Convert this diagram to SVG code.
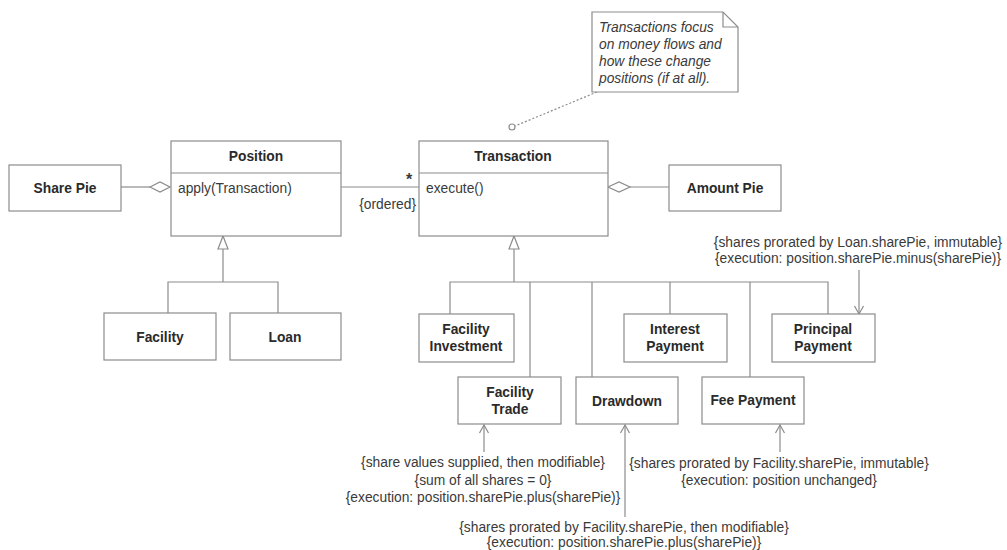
<svg xmlns="http://www.w3.org/2000/svg" width="1007" height="550" viewBox="0 0 1007 550">
<defs>
<style>
.box{fill:#fff;stroke:#8c8c8c;stroke-width:1.2}
.ln{fill:none;stroke:#8c8c8c;stroke-width:1.2}
.b{font-family:"Liberation Sans",Arial,sans-serif;font-size:13.8px;font-weight:bold;fill:#2a2a2a;text-anchor:middle}
.t{font-family:"Liberation Sans",Arial,sans-serif;font-size:13.8px;fill:#3a3a3a}
.c{text-anchor:middle}
.i{font-style:italic}
</style>
<marker id="open" markerWidth="12" markerHeight="12" refX="11" refY="6" orient="auto" markerUnits="userSpaceOnUse" viewBox="0 0 12 12">
<path d="M3,1.5 L11,6 L3,10.5" fill="none" stroke="#8c8c8c" stroke-width="1.2"/>
</marker>
</defs>
<rect width="1007" height="550" fill="#fff"/>

<g id="connectors">
<line class="ln" x1="121" y1="187" x2="150" y2="187"/>
<polygon class="ln" points="150,187 160,182 170,187 160,192" style="fill:#fff"/>
<line class="ln" x1="341" y1="187" x2="419" y2="187"/>
<polygon class="ln" points="608,187 619,182 630,187 619,192" style="fill:#fff"/>
<line class="ln" x1="630" y1="187" x2="669" y2="187"/>
<polygon class="ln" points="223,236 218,249 228,249" style="fill:#fff"/>
<polyline class="ln" points="223,249 223,282"/>
<polyline class="ln" points="168,313 168,282 278,282 278,313"/>
<polygon class="ln" points="514,236 509,249 519,249" style="fill:#fff"/>
<polyline class="ln" points="514,249 514,282"/>
<polyline class="ln" points="450,314 450,282 828,282 828,314"/>
<line class="ln" x1="530" y1="282" x2="530" y2="377"/>
<line class="ln" x1="592" y1="282" x2="592" y2="377"/>
<line class="ln" x1="670" y1="282" x2="670" y2="314"/>
<line class="ln" x1="750" y1="282" x2="750" y2="377"/>
<line class="ln" x1="597" y1="92" x2="515" y2="126" stroke-dasharray="2,2"/>
<circle class="ln" cx="512" cy="127" r="3" style="fill:#fff"/>
<line class="ln" x1="859" y1="270" x2="859" y2="314" marker-end="url(#open)"/>
<line class="ln" x1="484" y1="452" x2="484" y2="425" marker-end="url(#open)"/>
<line class="ln" x1="625" y1="517" x2="625" y2="425" marker-end="url(#open)"/>
<line class="ln" x1="780" y1="452" x2="780" y2="425" marker-end="url(#open)"/>
</g>

<g id="note">
<polygon class="box" points="592,12 723,12 738,27 738,92 592,92"/>
<polyline class="ln" points="723,12 723,27 738,27"/>
<text class="t i" x="599" y="32">Transactions focus</text>
<text class="t i" x="599" y="49">on money flows and</text>
<text class="t i" x="599" y="66">how these change</text>
<text class="t i" x="599" y="83">positions (if at all).</text>
</g>

<g id="share-pie">
<rect class="box" x="9" y="165" width="112" height="46"/>
<text class="b" x="65" y="193">Share Pie</text>
</g>

<g id="position">
<rect class="box" x="171" y="141" width="170" height="95"/>
<line class="ln" x1="171" y1="173" x2="341" y2="173"/>
<text class="b" x="256" y="161">Position</text>
<text class="t" x="178" y="193">apply(Transaction)</text>
</g>

<g id="association-labels">
<text class="t" x="409" y="185" style="font-weight:bold;font-size:16px" text-anchor="middle">*</text>
<text class="t" x="416" y="209" text-anchor="end">{ordered}</text>
</g>

<g id="transaction">
<rect class="box" x="419" y="141" width="189" height="95"/>
<line class="ln" x1="419" y1="173" x2="608" y2="173"/>
<text class="b" x="513" y="161">Transaction</text>
<text class="t" x="426" y="193">execute()</text>
</g>

<g id="amount-pie">
<rect class="box" x="669" y="165" width="112" height="46"/>
<text class="b" x="725" y="193">Amount Pie</text>
</g>

<g id="facility">
<rect class="box" x="104" y="313" width="112" height="47"/>
<text class="b" x="160" y="342">Facility</text>
</g>

<g id="loan">
<rect class="box" x="230" y="313" width="111" height="47"/>
<text class="b" x="285" y="342">Loan</text>
</g>

<g id="facility-investment">
<rect class="box" x="419" y="314" width="95" height="48"/>
<text class="b" x="466" y="334">Facility</text>
<text class="b" x="466" y="351">Investment</text>
</g>

<g id="interest-payment">
<rect class="box" x="624" y="314" width="103" height="48"/>
<text class="b" x="675" y="334">Interest</text>
<text class="b" x="675" y="351">Payment</text>
</g>

<g id="principal-payment">
<rect class="box" x="772" y="314" width="103" height="48"/>
<text class="b" x="823" y="334">Principal</text>
<text class="b" x="823" y="351">Payment</text>
</g>

<g id="facility-trade">
<rect class="box" x="458" y="377" width="103" height="47"/>
<text class="b" x="510" y="397">Facility</text>
<text class="b" x="510" y="414">Trade</text>
</g>

<g id="drawdown">
<rect class="box" x="576" y="377" width="102" height="47"/>
<text class="b" x="627" y="406">Drawdown</text>
</g>

<g id="fee-payment">
<rect class="box" x="702" y="377" width="102" height="47"/>
<text class="b" x="753" y="405">Fee Payment</text>
</g>

<g id="constraints">
<text class="t c" x="858" y="247">{shares prorated by Loan.sharePie, immutable}</text>
<text class="t c" x="858" y="263">{execution: position.sharePie.minus(sharePie)}</text>
<text class="t c" x="483" y="467">{share values supplied, then modifiable}</text>
<text class="t c" x="483" y="485">{sum of all shares = 0}</text>
<text class="t c" x="483" y="502">{execution: position.sharePie.plus(sharePie)}</text>
<text class="t c" x="779" y="468">{shares prorated by Facility.sharePie, immutable}</text>
<text class="t c" x="779" y="485">{execution: position unchanged}</text>
<text class="t c" x="624" y="532">{shares prorated by Facility.sharePie, then modifiable}</text>
<text class="t c" x="624" y="547">{execution: position.sharePie.plus(sharePie)}</text>
</g>
</svg>
